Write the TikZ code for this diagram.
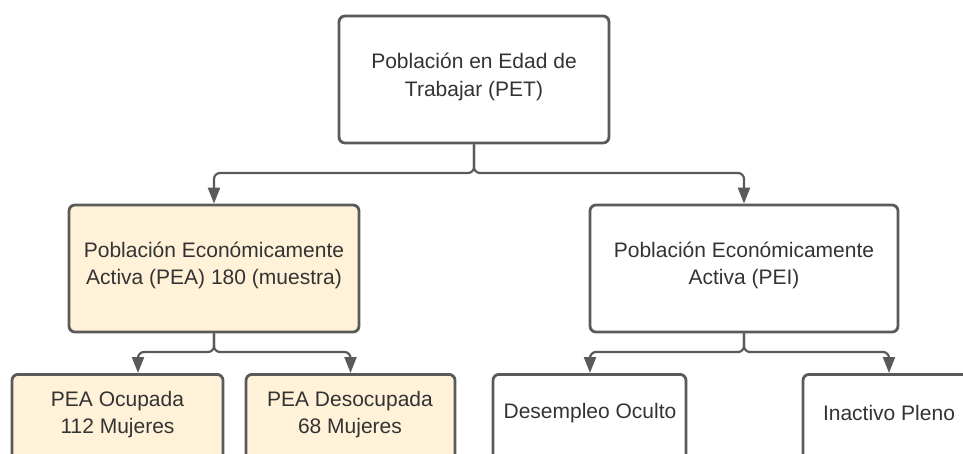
\documentclass[tikz,border=0pt]{standalone}
\usepackage{fontspec}
\setmainfont{Liberation Sans}
\usetikzlibrary{arrows.meta,calc}
\definecolor{linegray}{HTML}{5A5A5A}
\definecolor{txtgray}{HTML}{333333}
\definecolor{peafill}{HTML}{FFF2D9}
\begin{document}
\begin{tikzpicture}[x=1pt,y=-1pt,
  box/.style={draw=linegray, line width=2.8pt, rounded corners=6pt, fill=white, inner sep=0pt},
  yellowbox/.style={box, fill=peafill},
  txt/.style={text=txtgray, font=\fontsize{21}{27.5}\selectfont, align=center, inner sep=0pt},
  conn/.style={draw=linegray, line width=2.2pt, rounded corners=6pt, -{Triangle[width=12pt,length=16pt]}}
]
\useasboundingbox (0,0) rectangle (963,453);
\clip (0,0) rectangle (963,453);

% boxes
\node[box, minimum width=270pt, minimum height=127pt] (pet) at (474,79.5) {};
\node[yellowbox, minimum width=290pt, minimum height=127pt] (pea) at (214,268.5) {};
\node[box, minimum width=308pt, minimum height=127pt] (pei) at (744,268.5) {};
\node[yellowbox, minimum width=211pt, minimum height=120pt, anchor=north] (ocup) at (117.5,373) {};
\node[yellowbox, minimum width=209pt, minimum height=120pt, anchor=north] (desoc) at (350.5,373) {};
\node[box, minimum width=193pt, minimum height=120pt, anchor=north] (desemp) at (589.5,373) {};
\node[box, minimum width=172pt, minimum height=120pt, anchor=north] (inact) at (889,373) {};

% texts
\node[txt] (petT) at (474,77) {Población en Edad de\\Trabajar (PET)};
\node[txt] (peaT) at (214,265.5) {Población Económicamente\\Activa (PEA) 180 (muestra)};
\node[txt] (peiT) at (744,265.5) {Población Económicamente\\Activa (PEI)};
\node[txt] (ocupT) at (117.5,414.5) {PEA Ocupada\\112 Mujeres};
\node[txt] (desocT) at (350,414.5) {PEA Desocupada\\68 Mujeres};
\node[txt] (desempT) at (590,413) {Desempleo Oculto};
\node[txt] (inactT) at (889,413) {Inactivo Pleno};

% fork points
\coordinate (f1) at (474,173);
\coordinate (f2) at (214,352);
\coordinate (f3) at (744,352);

% connectors
\draw[conn] (pet.south) -- (f1) -| (pea.north);
\draw[conn] (pet.south) -- (f1) -| (pei.north);
\draw[conn] (pea.south) -- (f2) -| ([xshift=20.5pt]ocup.north);
\draw[conn] (pea.south) -- (f2) -| (desoc.north);
\draw[conn] (pei.south) -- (f3) -| ([xshift=0.5pt]desemp.north);
\draw[conn] (pei.south) -- (f3) -| (inact.north);
\end{tikzpicture}
\end{document}
